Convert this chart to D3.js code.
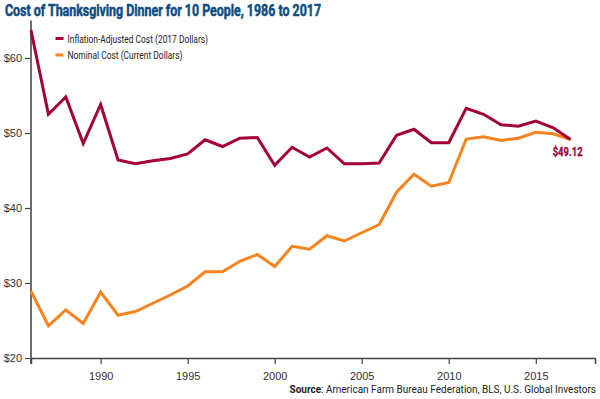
<!DOCTYPE html>
<html>
<head>
<meta charset="utf-8">
<script src="https://cdn.jsdelivr.net/npm/d3@7"></script>
<style>
  body { margin: 0; background: #fff; }
  svg { display: block; font-family: "Liberation Sans Narrow", "Roboto", "Liberation Sans", sans-serif; }
</style>
</head>
<body>
<div id="chart"></div>
<script>
// data
const years = d3.range(1986, 2018);
const adjusted = [63.7, 52.5, 54.8, 48.6, 53.8, 46.4, 45.9, 46.3, 46.6, 47.2,
                  49.1, 48.2, 49.3, 49.4, 45.7, 48.1, 46.8, 48.0, 45.9, 45.9,
                  46.0, 49.7, 50.5, 48.7, 48.7, 53.3, 52.5, 51.1, 50.9, 51.6,
                  50.7, 49.12];
const nominal = [28.9, 24.3, 26.4, 24.6, 28.8, 25.7, 26.2, 27.3, 28.4, 29.6,
                 31.5, 31.5, 32.9, 33.8, 32.2, 34.9, 34.5, 36.3, 35.6, 36.7,
                 37.8, 42.1, 44.5, 42.9, 43.4, 49.2, 49.5, 49.0, 49.3, 50.1,
                 49.9, 49.12];
const yTicks = [20, 30, 40, 50, 60];
const xTicks = [1990, 1995, 2000, 2005, 2010, 2015];
const seriesNames = ["Inflation-Adjusted Cost (2017 Dollars)", "Nominal Cost (Current Dollars)"];
const seriesColors = ["#A3003B", "#F7841F"];

const W = 600, H = 399;
const svg = d3.select("#chart").append("svg").attr("width", W).attr("height", H);

const x = d3.scaleLinear().domain([1986, 2018.4]).range([31, 595]);
const y = d3.scaleLinear().domain([20, 65]).range([358, 20.5]);

// title
svg.append("text")
  .attr("x", 5).attr("y", 16)
  .attr("textLength", 316).attr("lengthAdjust", "spacingAndGlyphs")
  .style("font-size", "16px").style("font-weight", "bold").style("fill", "#0E4C7F")
  .style("stroke", "#0E4C7F").style("stroke-width", 0.5)
  .text("Cost of Thanksgiving Dinner for 10 People, 1986 to 2017");

// axes
const yAxis = svg.append("g")
  .attr("transform", "translate(31,0)")
  .call(d3.axisLeft(y).tickValues(yTicks).tickSize(6).tickPadding(3).tickFormat(d => "$" + d));
yAxis.select(".domain").remove();
yAxis.selectAll("line").attr("stroke", "#444").attr("stroke-width", 1.2);
yAxis.selectAll("text").style("font-size", "11px").style("fill", "#333");

svg.append("line")
  .attr("x1", 31).attr("x2", 31).attr("y1", 20.5).attr("y2", 364)
  .attr("stroke", "#6b6b6b").attr("stroke-width", 2);

const xAxis = svg.append("g")
  .attr("transform", "translate(0,358)")
  .call(d3.axisBottom(x).tickValues(xTicks).tickSize(6).tickPadding(8).tickFormat(d3.format("d")));
xAxis.select(".domain").attr("stroke", "#444").attr("stroke-width", 1.5);
xAxis.selectAll("line").attr("stroke", "#444").attr("stroke-width", 1.2);
xAxis.selectAll("text").style("font-size", "11px").style("fill", "#333");

// lines
const line = d3.line().x((d, i) => x(years[i])).y(d => y(d));
[nominal, adjusted].forEach((vals, k) => {
  svg.append("path")
    .datum(vals)
    .attr("fill", "none")
    .attr("stroke", k === 0 ? seriesColors[1] : seriesColors[0])
    .attr("stroke-width", 3)
    .attr("d", line);
});

// end label
svg.append("text")
  .attr("x", x(2017) - 3).attr("y", y(adjusted[adjusted.length - 1]) + 16)
  .attr("text-anchor", "middle")
  .attr("textLength", 30).attr("lengthAdjust", "spacingAndGlyphs")
  .style("font-size", "12px").style("font-weight", "bold").style("fill", seriesColors[0])
  .style("stroke", seriesColors[0]).style("stroke-width", 0.3)
  .text("$" + adjusted[adjusted.length - 1].toFixed(2));

// legend
const legend = svg.append("g");
seriesNames.forEach((name, i) => {
  const ly = 38.5 + i * 16.5;
  legend.append("line")
    .attr("x1", 55.5).attr("x2", 63.5).attr("y1", ly).attr("y2", ly)
    .attr("stroke", seriesColors[i]).attr("stroke-width", 3);
  legend.append("text")
    .attr("x", 67.5).attr("y", ly + 4)
    .attr("textLength", i === 0 ? 140.5 : 115)
    .attr("lengthAdjust", "spacingAndGlyphs")
    .style("font-size", "11px").style("fill", "#222")
    .text(name);
});

// source
const src = svg.append("text")
  .attr("x", 596).attr("y", 393)
  .attr("text-anchor", "end")
  .style("font-size", "10px").style("fill", "#222");
src.append("tspan").style("font-weight", "bold").text("Source");
src.append("tspan").text(": American Farm Bureau Federation, BLS, U.S. Global Investors");
</script>
</body>
</html>
